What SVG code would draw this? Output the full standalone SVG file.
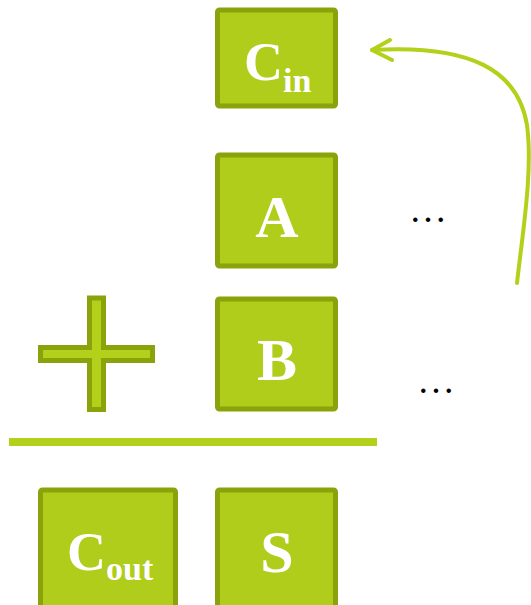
<svg xmlns="http://www.w3.org/2000/svg" width="531" height="605" viewBox="0 0 531 605">
<defs>
<style>
.box{fill:#AFCD1A;stroke:#8BA20B;stroke-width:5}
.lbl{font-family:"Liberation Serif","DejaVu Serif",serif;fill:#FFFFFF;font-weight:bold}
.dots{font-family:"Liberation Serif",serif;fill:#000000;font-size:38px}
.conn{fill:none;stroke:#B3D11A;stroke-width:4;stroke-linecap:round;stroke-linejoin:round}
</style>
</defs>
<rect width="531" height="605" fill="#FFFFFF"/>
<g id="cin">
<rect class="box" x="217.5" y="10" width="118" height="96" rx="2"/>
<text class="lbl" x="244" y="80" font-size="54">C<tspan font-size="34" dy="12">in</tspan></text>
</g>
<g id="a">
<rect class="box" x="217.5" y="155" width="118" height="111" rx="2"/>
<text class="lbl" x="277" y="237" font-size="60" text-anchor="middle">A</text>
</g>
<g id="b">
<rect class="box" x="217.5" y="299" width="118" height="110" rx="2"/>
<text class="lbl" x="277" y="380" font-size="60" text-anchor="middle">B</text>
</g>
<g id="plus">
<polygon points="89.5,298 103.5,298 103.5,347.5 152.5,347.5 152.5,360.5 103.5,360.5 103.5,409.5 89.5,409.5 89.5,360.5 40.5,360.5 40.5,347.5 89.5,347.5" fill="#B3D11A" stroke="#8BA20B" stroke-width="5"/>
</g>
<g id="line">
<rect x="9" y="438" width="368" height="8" fill="#B3D11A"/>
</g>
<g id="cout">
<rect class="box" x="40.5" y="490" width="135" height="118" rx="2"/>
<text class="lbl" x="67" y="570" font-size="54">C<tspan font-size="34" dy="10">out</tspan></text>
</g>
<g id="s">
<rect class="box" x="217.5" y="490" width="118" height="118" rx="2"/>
<text class="lbl" x="277" y="572" font-size="60" text-anchor="middle">S</text>
</g>
<g id="ellipses">
<text class="dots" x="428" y="222" text-anchor="middle">…</text>
<text class="dots" x="436" y="393" text-anchor="middle">…</text>
</g>
<g id="connectors">
<path class="conn" d="M517,283 C523,230 533,170 527,125 C518,70 470,44 372,50"/>
<path class="conn" d="M390,40 L372,50 L392,60"/>
</g>
</svg>
